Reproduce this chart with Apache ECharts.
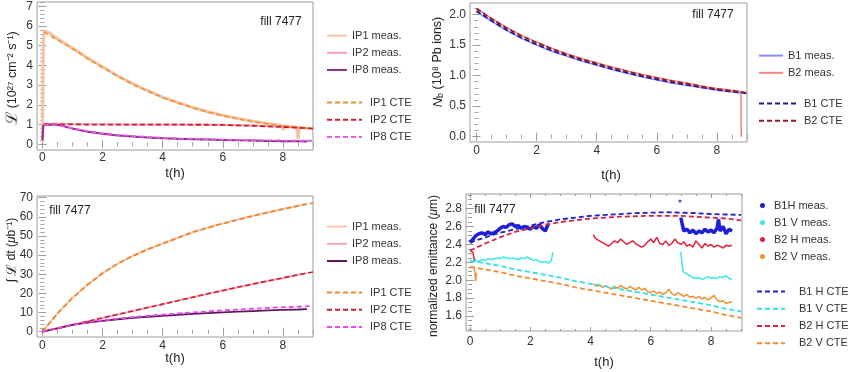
<!DOCTYPE html>
<html><head><meta charset="utf-8">
<script src="https://cdn.jsdelivr.net/npm/echarts@6/dist/echarts.min.js"></script>
<style>html,body{margin:0;padding:0;background:#fff}#c{width:850px;height:372px}</style>
</head><body><div id="c"></div>
<script>
// ---------- Panel 1: luminosity ----------
const t1IP1meas = [0,0.03,0.06,0.2,0.5,1,1.5,2,2.5,3,3.5,4,4.5,5,5.5,6,6.5,7,7.5,7.95,8.0,8.05,8.45,8.5,8.55,8.8];
const v1IP1meas = [0.1,5.0,5.75,5.68,5.36,4.88,4.38,3.93,3.48,3.08,2.72,2.39,2.12,1.87,1.65,1.47,1.31,1.17,1.05,0.95,0.72,0.94,0.87,0.28,0.86,0.82];
const t1IP2meas = [0,0.03,0.5,1,2,3,4,5,6,6.5,7,7.5,8,8.5,8.8];
const v1IP2meas = [0.25,1.04,1.04,1.03,1.02,1.01,1.01,1.0,0.99,0.97,0.95,0.92,0.89,0.85,0.82];
const t1IP8meas = [0,0.03,0.1,0.3,0.6,1,1.5,2,2.5,3,3.5,4,4.5,5,5.5,6,6.5,7,7.5,8,8.5,8.8];
const v1IP8meas = [0.2,0.95,1.0,0.99,0.96,0.8,0.64,0.53,0.45,0.39,0.35,0.31,0.28,0.26,0.24,0.22,0.2,0.19,0.17,0.16,0.15,0.14];
const t1CTE = [0.05,0.5,1,1.5,2,2.5,3,3.5,4,4.5,5,5.5,6,6.5,7,7.5,8,8.5,9];
const v1IP1CTE = [5.7,5.3,4.85,4.35,3.9,3.45,3.05,2.7,2.37,2.1,1.85,1.63,1.45,1.29,1.15,1.03,0.93,0.85,0.78];
const v1IP2CTE = [1.01,1.01,1.01,1.0,1.0,1.0,1.0,1.0,1.0,1.0,0.99,0.99,0.98,0.96,0.94,0.91,0.88,0.84,0.8];
const v1IP8CTE = [1.0,0.97,0.81,0.67,0.56,0.48,0.42,0.37,0.33,0.3,0.28,0.26,0.24,0.22,0.21,0.2,0.19,0.18,0.18];

// ---------- Panel 2: bunch intensity ----------
const t2CTE = [0,0.5,1,1.5,2,2.5,3,3.5,4,4.5,5,5.5,6,6.5,7,7.5,8,8.5,9];
const v2B1CTE = [2.06,1.9,1.75,1.62,1.51,1.41,1.33,1.25,1.18,1.11,1.05,0.99,0.94,0.89,0.85,0.81,0.77,0.74,0.71];
const v2B2CTE = [2.1,1.93,1.78,1.65,1.54,1.44,1.35,1.27,1.2,1.13,1.07,1.01,0.96,0.91,0.87,0.82,0.78,0.75,0.72];
const t2B1meas = [0,0.5,1,1.5,2,2.5,3,3.5,4,4.5,5,5.5,6,6.5,7,7.5,8,8.5,8.8];
const v2B1meas = [2.05,1.89,1.74,1.61,1.5,1.4,1.32,1.24,1.17,1.1,1.04,0.98,0.93,0.88,0.84,0.8,0.76,0.73,0.71];
const t2B2meas = [0,0.5,1,1.5,2,2.5,3,3.5,4,4.5,5,5.5,6,6.5,7,7.5,8,8.5,8.8,8.81];
const v2B2meas = [2.1,1.94,1.79,1.66,1.55,1.45,1.36,1.28,1.21,1.14,1.08,1.02,0.97,0.92,0.88,0.83,0.79,0.76,0.74,0.0];

// ---------- Panel 3: integrated luminosity ----------
const t3CTE = [0,0.5,1,1.5,2,2.5,3,3.5,4,4.5,5,5.5,6,6.5,7,7.5,8,8.5,9];
const v3IP1CTE = [0,9.5,17.6,24.5,30.5,35.5,39.5,43,46,49,52,54.3,56.5,58.5,60.5,62.3,64,65.7,67.3];
const v3IP2CTE = [0,1.8,3.6,5.4,7.2,9.0,10.8,12.6,14.4,16.2,18,19.8,21.5,23.2,24.9,26.5,28.1,29.7,31.2];
const v3IP8CTE = [0,1.8,3.6,4.9,5.9,6.8,7.6,8.3,8.9,9.5,10.1,10.6,11.1,11.6,12.0,12.4,12.8,13.1,13.4];
const t3meas = [0,0.5,1,1.5,2,2.5,3,3.5,4,4.5,5,5.5,6,6.5,7,7.5,8,8.5,8.8];
const v3IP1meas = [0,9.6,17.7,24.6,30.6,35.6,39.6,43.1,46.1,49.1,52.1,54.4,56.6,58.6,60.6,62.4,64.1,65.8,66.7];
const v3IP2meas = [0,1.8,3.6,5.4,7.2,9.0,10.8,12.6,14.4,16.2,18,19.8,21.5,23.2,24.9,26.5,28.1,29.7,30.6];
const v3IP8meas = [0,1.8,3.6,4.8,5.7,6.5,7.2,7.8,8.3,8.8,9.3,9.7,10.1,10.5,10.8,11.1,11.4,11.6,11.8];

// ---------- Panel 4: emittance ----------
const t4CTE = [0,0.5,1,1.5,2,2.5,3,3.5,4,4.5,5,5.5,6,6.5,7,7.5,8,8.5,9];
const v4B1HCTE = [2.42,2.48,2.53,2.57,2.61,2.65,2.68,2.70,2.72,2.73,2.74,2.75,2.755,2.76,2.755,2.75,2.74,2.735,2.73];
const v4B2HCTE = [2.33,2.41,2.48,2.54,2.58,2.62,2.65,2.67,2.69,2.70,2.71,2.715,2.72,2.72,2.72,2.71,2.70,2.69,2.67];
const v4B1VCTE = [2.22,2.19,2.16,2.12,2.09,2.06,2.03,1.99,1.96,1.93,1.90,1.87,1.84,1.81,1.78,1.75,1.72,1.68,1.65];
const v4B2VCTE = [2.15,2.12,2.09,2.05,2.02,1.99,1.96,1.92,1.89,1.86,1.83,1.80,1.77,1.74,1.71,1.68,1.65,1.61,1.58];

const t4B1Ha = [0,0.1,0.2,0.3,0.4,0.5,0.6,0.7,0.8,0.9,1.0,1.1,1.2,1.3,1.4,1.5,1.6,1.7,1.8,1.9,2.0,2.1,2.2,2.3,2.4,2.5,2.6];
const v4B1Ha = [2.42,2.46,2.50,2.52,2.53,2.51,2.54,2.52,2.53,2.55,2.58,2.60,2.59,2.62,2.63,2.60,2.61,2.58,2.60,2.59,2.57,2.60,2.58,2.62,2.58,2.55,2.63];
const t4B1Hb = [7.0,7.05,7.1,7.2,7.3,7.4,7.5,7.6,7.7,7.8,7.9,8.0,8.1,8.2,8.25,8.3,8.4,8.5,8.6,8.7];
const v4B1Hb = [2.70,2.62,2.55,2.57,2.53,2.56,2.52,2.55,2.53,2.57,2.54,2.56,2.53,2.58,2.68,2.55,2.60,2.52,2.57,2.55];
const t4B1Hout = [6.97];
const v4B1Hout = [2.885];

const t4B1Va = [0,0.1,0.2,0.3,0.4,0.5,0.6,0.7,0.8,0.9,1.0,1.1,1.2,1.3,1.4,1.5,1.6,1.7,1.8,1.9,2.0,2.1,2.2,2.3,2.4,2.5,2.6,2.7,2.75];
const v4B1Va = [2.22,2.20,2.22,2.21,2.23,2.22,2.24,2.23,2.24,2.25,2.24,2.26,2.25,2.24,2.25,2.24,2.23,2.25,2.24,2.26,2.24,2.22,2.23,2.21,2.20,2.21,2.19,2.22,2.31];
const t4B1Vb = [7.0,7.03,7.07,7.15,7.2,7.3,7.4,7.5,7.6,7.7,7.8,7.9,8.0,8.1,8.2,8.3,8.4,8.5,8.6,8.7];
const v4B1Vb = [2.32,2.22,2.10,2.08,2.06,2.05,2.03,2.02,2.03,2.01,2.02,2.04,2.02,2.03,2.02,2.04,2.03,2.05,2.02,2.01];

const t4B2Ha = [0.02,0.06,0.1,0.14,0.17];
const v4B2Ha = [2.33,2.35,2.31,2.22,2.24];
const t4B2Hb = [4.1,4.15,4.2,4.3,4.4,4.5,4.6,4.7,4.8,4.9,5.0,5.1,5.2,5.3,5.4,5.5,5.6,5.7,5.8,5.9,6.0,6.1,6.2,6.3,6.4,6.5,6.6,6.7,6.8,6.9,7.0,7.1,7.2,7.3,7.4,7.5,7.6,7.7,7.8,7.9,8.0,8.1,8.2,8.3,8.4,8.5,8.6,8.7];
const v4B2Hb = [2.51,2.47,2.49,2.44,2.42,2.40,2.38,2.41,2.44,2.42,2.46,2.43,2.40,2.42,2.44,2.41,2.39,2.37,2.39,2.43,2.46,2.42,2.48,2.41,2.40,2.44,2.39,2.41,2.46,2.42,2.40,2.43,2.38,2.40,2.37,2.44,2.40,2.36,2.41,2.38,2.40,2.37,2.39,2.38,2.36,2.39,2.38,2.39];

const t4B2Va = [0.03,0.08,0.12,0.16,0.19,0.21];
const v4B2Va = [2.14,2.12,2.15,2.10,1.99,2.08];
const t4B2Vb = [4.1,4.2,4.3,4.4,4.5,4.6,4.7,4.8,4.9,5.0,5.1,5.2,5.3,5.4,5.5,5.6,5.7,5.8,5.9,6.0,6.1,6.2,6.3,6.4,6.5,6.6,6.7,6.8,6.9,7.0,7.1,7.2,7.3,7.4,7.5,7.6,7.7,7.8,7.9,8.0,8.1,8.2,8.3,8.4,8.5,8.6,8.7];
const v4B2Vb = [1.96,1.93,1.95,1.92,1.94,1.92,1.90,1.93,1.91,1.94,1.92,1.90,1.93,1.91,1.89,1.92,1.89,1.91,1.87,1.86,1.88,1.85,1.87,1.84,1.86,1.90,1.85,1.83,1.86,1.84,1.82,1.84,1.81,1.82,1.80,1.82,1.79,1.81,1.78,1.80,1.83,1.78,1.76,1.77,1.74,1.75,1.76];

// ---------- tick labels ----------
const xTicks = [0,2,4,6,8];
const yTicks1 = [0,1,2,3,4,5,6,7];
const yTicks2 = [0,0.5,1.0,1.5,2.0];
const yTicks3 = [0,10,20,30,40,50,60,70];
const yTicks4 = [1.6,1.8,2.0,2.2,2.4,2.6,2.8];

// ---------- helpers ----------
const FONT = '"Liberation Sans", Arial, Helvetica, sans-serif';
const FRAME = '#9c9c9c';
const LAB = '#333';
const zip = (t, v) => t.map((x, i) => [x, v[i]]);
function steps(a, b, s) { const r = []; const n = Math.round((b - a) / s); for (let i = 0; i <= n; i++) r.push(+(a + i * s).toFixed(4)); return r; }

const grids = [
  {left: 37, top: 2, width: 276, height: 148},
  {left: 470, top: 3, width: 277, height: 139},
  {left: 37, top: 196, width: 276, height: 141},
  {left: 466, top: 194, width: 276, height: 137}
];
const panels = [
  {xr: [-0.18, 9.0], yr: [-0.29, 7.22], yMaj: yTicks1, yMin: steps(0, 7.2, 0.2), yFmt: v => String(v), xm: 2, ym: 4},
  {xr: [-0.216, 9.0], yr: [-0.087, 2.19], yMaj: yTicks2, yMin: steps(0, 2.1, 0.1), yFmt: v => v.toFixed(1), xm: 3, ym: 4},
  {xr: [-0.18, 9.0], yr: [-2.77, 70.9], yMaj: yTicks3, yMin: steps(0, 70, 2), yFmt: v => String(v), xm: 3, ym: 4},
  {xr: [-0.133, 9.03], yr: [1.432, 2.964], yMaj: yTicks4, yMin: steps(1.45, 2.95, 0.05), yFmt: v => v.toFixed(1), xm: 5, ym: 4}
];
const xMinor = steps(0, 9, 0.5);

const xAxes = [], yAxes = [];
panels.forEach((p, gi) => {
  const base = {type: 'value', gridIndex: gi, axisLine: {show: false}, splitLine: {show: false}};
  const tick = (vals, len) => ({show: true, inside: true, length: len, customValues: vals, lineStyle: {color: FRAME, width: 1}});
  const lab = {show: true, customValues: xTicks, formatter: v => String(v), margin: p.xm, color: LAB, fontSize: 12, fontFamily: FONT};
  const ylab = {show: true, customValues: p.yMaj, formatter: p.yFmt, margin: p.ym, color: LAB, fontSize: 12, fontFamily: FONT};
  const none = {show: false};
  [['bottom', xTicks, 4, lab], ['bottom', xMinor, 2, none], ['top', xTicks, 4, none], ['top', xMinor, 2, none]].forEach(a => {
    xAxes.push(Object.assign({}, base, {min: p.xr[0], max: p.xr[1], position: a[0], axisTick: tick(a[1], a[2]), axisLabel: a[3]}));
  });
  [['left', p.yMaj, 4, ylab], ['left', p.yMin, 2, none], ['right', p.yMaj, 4, none], ['right', p.yMin, 2, none]].forEach(a => {
    yAxes.push(Object.assign({}, base, {min: p.yr[0], max: p.yr[1], position: a[0], axisTick: tick(a[1], a[2]), axisLabel: a[3]}));
  });
});

function line(name, data, color, width, type, gi, z) {
  return {type: 'line', name: name, data: data, xAxisIndex: gi * 4, yAxisIndex: gi * 4,
    symbol: 'none', showSymbol: false, smooth: false, clip: true, z: z || 2,
    lineStyle: {color: color, width: width, type: type}, itemStyle: {color: color}};
}
const D = [5, 3];
const series = [
  // panel 1
  line('IP1 meas.|a', zip(t1IP1meas, v1IP1meas), '#f7c2a6', 3, 'solid', 0),
  line('IP2 meas.|a', zip(t1IP2meas, v1IP2meas), '#f2a2b2', 2, 'solid', 0),
  line('IP8 meas.|a', zip(t1IP8meas, v1IP8meas), '#8e2e8e', 2, 'solid', 0),
  line('IP1 CTE|a', zip(t1CTE, v1IP1CTE), '#ec9232', 1.5, D, 0, 3),
  line('IP2 CTE|a', zip(t1CTE, v1IP2CTE), '#d01c2c', 1.8, D, 0, 3),
  line('IP8 CTE|a', zip(t1CTE, v1IP8CTE), '#e65ae6', 1.8, D, 0, 3),
  // panel 2
  line('B1 meas.', zip(t2B1meas, v2B1meas), '#8a8aff', 1.5, 'solid', 1),
  line('B2 meas.', zip(t2B2meas, v2B2meas), '#f48282', 1.5, 'solid', 1),
  line('B1 CTE', zip(t2CTE, v2B1CTE), '#1c1c8c', 1.8, D, 1, 3),
  line('B2 CTE', zip(t2CTE, v2B2CTE), '#8c1c2c', 1.8, D, 1, 3),
  // panel 3
  line('IP1 meas.|b', zip(t3meas, v3IP1meas), '#f8c4b4', 2, 'solid', 2),
  line('IP2 meas.|b', zip(t3meas, v3IP2meas), '#f4a8b8', 2, 'solid', 2),
  line('IP8 meas.|b', zip(t3meas, v3IP8meas), '#5e1a5e', 1.8, 'solid', 2),
  line('IP1 CTE|b', zip(t3CTE, v3IP1CTE), '#e8882a', 1.8, D, 2, 3),
  line('IP2 CTE|b', zip(t3CTE, v3IP2CTE), '#cc1f2f', 1.6, D, 2, 3),
  line('IP8 CTE|b', zip(t3CTE, v3IP8CTE), '#ee44ee', 1.8, D, 2, 3),
  // panel 4 measurements
  line('B1H meas.', zip(t4B1Ha, v4B1Ha), '#1e1ed8', 3.5, 'solid', 3),
  line('B1H meas.', zip(t4B1Hb, v4B1Hb), '#1e1ed8', 3.5, 'solid', 3),
  {type: 'scatter', name: 'B1H point', data: zip(t4B1Hout, v4B1Hout), xAxisIndex: 12, yAxisIndex: 12, symbolSize: 3, itemStyle: {color: '#1e1ed8'}},
  line('B1 V meas.', zip(t4B1Va, v4B1Va), '#3ae8e8', 1.5, 'solid', 3),
  line('B1 V meas.', zip(t4B1Vb, v4B1Vb), '#3ae8e8', 1.5, 'solid', 3),
  line('B2 H meas.', zip(t4B2Ha, v4B2Ha), '#e0203c', 1.5, 'solid', 3),
  line('B2 H meas.', zip(t4B2Hb, v4B2Hb), '#e0203c', 1.5, 'solid', 3),
  line('B2 V meas.', zip(t4B2Va, v4B2Va), '#f49030', 1.5, 'solid', 3),
  line('B2 V meas.', zip(t4B2Vb, v4B2Vb), '#f49030', 1.5, 'solid', 3),
  // panel 4 CTE
  line('B1 H CTE', zip(t4CTE, v4B1HCTE), '#2020d0', 1.8, D, 3, 3),
  line('B1 V CTE', zip(t4CTE, v4B1VCTE), '#30e0e8', 1.8, D, 3, 3),
  line('B2 H CTE', zip(t4CTE, v4B2HCTE), '#d82040', 1.8, D, 3, 3),
  line('B2 V CTE', zip(t4CTE, v4B2VCTE), '#f08a30', 1.8, D, 3, 3)
];

const legTxt = {fontSize: 11, color: '#333', fontFamily: FONT};
function leg(left, top, names, w, h, gap, padL, icon) {
  const l = {orient: 'vertical', left: left, top: top, itemWidth: w, itemHeight: h, itemGap: gap,
    selectedMode: false, padding: 0, data: names, formatter: n => n.split('|')[0],
    textStyle: Object.assign({}, legTxt, {padding: [0, 0, 0, padL]})};
  if (icon) { l.icon = icon; } else { l.itemStyle = {opacity: 0}; }
  return l;
}
const legends = [
  leg(326, 30, ['IP1 meas.|a', 'IP2 meas.|a', 'IP8 meas.|a'], 20, 14, 6, 0),
  leg(326, 97, ['IP1 CTE|a', 'IP2 CTE|a', 'IP8 CTE|a'], 35, 14, 6, 3),
  leg(758, 50, ['B1 meas.', 'B2 meas.'], 24, 14, 6, 0),
  leg(758, 98, ['B1 CTE', 'B2 CTE'], 37, 14, 6, 3),
  leg(326, 221, ['IP1 meas.|b', 'IP2 meas.|b', 'IP8 meas.|b'], 20, 14, 6, 0),
  leg(326, 287, ['IP1 CTE|b', 'IP2 CTE|b', 'IP8 CTE|b'], 35, 14, 6, 3),
  leg(760, 200, ['B1H meas.', 'B1 V meas.', 'B2 H meas.', 'B2 V meas.'], 5, 14, 6, 4, 'path://M0,5.5a2.5,2.5 0 1,0 5,0a2.5,2.5 0 1,0 -5,0'),
  leg(756, 286, ['B1 H CTE', 'B1 V CTE', 'B2 H CTE', 'B2 V CTE'], 28, 14, 6, 9)
];

const tStyle = {fill: '#222', font: '12px ' + FONT, textAlign: 'center', textVerticalAlign: 'middle'};
function txt(x, y, text, extra, rot) {
  return {type: 'text', x: x, y: y, rotation: rot || 0, z: 10, style: Object.assign({}, tStyle, {text: text}, extra || {})};
}
const R = Math.PI / 2;
const richBase = {fontFamily: FONT, fontSize: 12, fill: '#222'};
const graphics = [
  txt(281, 22, 'fill 7477'), txt(713, 15, 'fill 7477'), txt(70, 211, 'fill 7477'), txt(495, 210, 'fill 7477'),
  txt(175, 173, 't(h)', {font: '13px ' + FONT}), txt(611, 175, 't(h)', {font: '13px ' + FONT}),
  txt(175, 358, 't(h)', {font: '13px ' + FONT}), txt(604, 362, 't(h)', {font: '13px ' + FONT}),
  txt(13, 78, '{L|ℒ}{t| (10²⁷ cm⁻² s⁻¹)}', {rich: {L: Object.assign({}, richBase, {fontSize: 16, fontFamily: 'DejaVu Serif'}), t: Object.assign({}, richBase, {fontSize: 12.5})}}, R),
  txt(438, 62, '{n|N}{s|b}{t| (10⁸ Pb ions)}', {rich: {n: Object.assign({}, richBase, {fontSize: 13, fontStyle: 'italic'}), s: Object.assign({}, richBase, {fontSize: 9, verticalAlign: 'bottom', padding: [6, 0, 0, 0]}), t: Object.assign({}, richBase, {fontSize: 12.5})}}, R),
  txt(12, 250, '{t|∫ }{L|ℒ}{t| dt (}{i|μ}{t|b⁻¹)}', {rich: {t: Object.assign({}, richBase, {fontSize: 12}), L: Object.assign({}, richBase, {fontSize: 14, fontFamily: 'DejaVu Serif'}), i: Object.assign({}, richBase, {fontSize: 12, fontStyle: 'italic'})}}, R),
  txt(434, 266, '{t|normalized emittance (}{i|μ}{t|m)}', {rich: {t: Object.assign({}, richBase, {fontSize: 12}), i: Object.assign({}, richBase, {fontSize: 12, fontStyle: 'italic'})}}, R)
];

const chart = echarts.init(document.getElementById('c'), null, {renderer: 'canvas'});
chart.setOption({
  animation: false,
  backgroundColor: '#fff',
  grid: grids.map(g => Object.assign({show: true, borderColor: FRAME, borderWidth: 1, backgroundColor: 'transparent', containLabel: false}, g)),
  xAxis: xAxes,
  yAxis: yAxes,
  legend: legends,
  series: series,
  graphic: graphics
});
</script>
</body></html>
